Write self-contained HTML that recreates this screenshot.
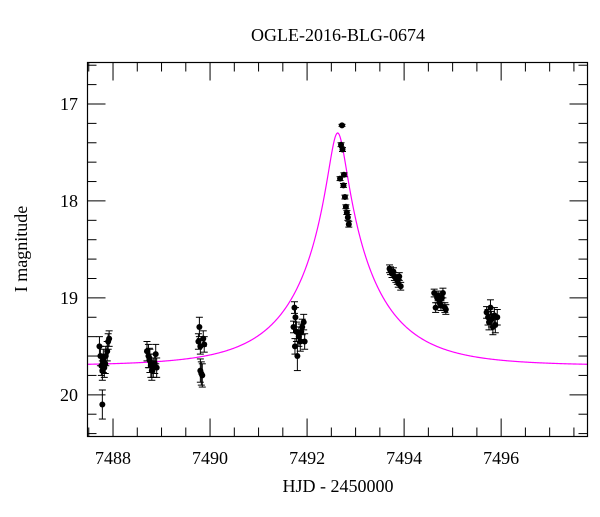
<!DOCTYPE html>
<html><head><meta charset="utf-8"><style>
body{margin:0;background:#fff}
svg text{font-family:"Liberation Serif",serif;fill:#000}
</style></head><body>
<svg id="chart" width="600" height="512" viewBox="0 0 600 512">
<text x="338" y="41" font-size="18" text-anchor="middle">OGLE-2016-BLG-0674</text>
<text x="338" y="492" font-size="18" text-anchor="middle">HJD - 2450000</text>
<text transform="translate(27,249) rotate(-90)" font-size="18" text-anchor="middle">I magnitude</text>
<g id="ticks"></g>
<g id="model"></g>
<g id="pts"></g>
<rect x="87.5" y="62.5" width="500" height="374" fill="none" stroke="#000" stroke-width="1.2"/>
</svg>
<script>
const xTicks=[7488,7490,7492,7494,7496];
const yTicks=[17,18,19,20];
const modelParams=[7492.63,0.11,1.62,19.7];
const obsT=[7487.72,7487.74,7487.76,7487.78,7487.8,7487.82,7487.85,7487.88,7487.9,7487.92,7487.78,7487.84,
7488.7,7488.73,7488.76,7488.78,7488.8,7488.83,7488.86,7488.88,7488.9,7488.75,
7489.76,7489.78,7489.8,7489.82,7489.84,7489.86,7489.88,7489.8,
7491.72,7491.74,7491.76,7491.78,7491.8,7491.83,7491.86,7491.88,7491.9,7491.93,7491.95,7491.75,
7492.72,7492.7,7492.73,7492.68,7492.76,7492.75,7492.78,7492.8,7492.82,7492.84,7492.86,
7493.7,7493.72,7493.75,7493.78,7493.8,7493.83,7493.86,7493.88,7493.9,7493.93,
7494.62,7494.65,7494.68,7494.7,7494.73,7494.76,7494.78,7494.8,7494.84,7494.86,
7495.7,7495.73,7495.75,7495.78,7495.8,7495.83,7495.86,7495.88,7495.92];
const obsMag=[19.5,19.6,19.7,20.1,19.65,19.72,19.6,19.55,19.45,19.42,19.75,19.68,
19.55,19.6,19.65,19.7,19.75,19.72,19.68,19.58,19.72,19.62,
19.45,19.3,19.75,19.78,19.8,19.42,19.48,19.5,
19.3,19.1,19.2,19.35,19.6,19.4,19.45,19.35,19.3,19.25,19.45,19.5,
17.22,17.42,17.47,17.77,17.73,17.84,17.96,18.06,18.12,18.17,18.24,
18.7,18.72,18.75,18.73,18.78,18.8,18.82,18.85,18.78,18.88,
18.95,19.1,19.0,18.98,19.05,19.08,19.0,18.95,19.1,19.12,
19.15,19.2,19.25,19.1,19.22,19.3,19.18,19.28,19.2];
const obsErr=[0.1,0.1,0.1,0.15,0.12,0.1,0.1,0.1,0.08,0.08,0.1,0.1,
0.1,0.12,0.12,0.12,0.1,0.1,0.1,0.1,0.1,0.1,
0.08,0.1,0.12,0.12,0.12,0.08,0.08,0.08,
0.06,0.06,0.1,0.1,0.15,0.1,0.1,0.08,0.08,0.08,0.08,0.08,
0.01,0.02,0.02,0.02,0.02,0.02,0.02,0.02,0.02,0.03,0.03,
0.04,0.04,0.04,0.04,0.04,0.04,0.04,0.04,0.04,0.04,
0.04,0.05,0.05,0.05,0.05,0.05,0.05,0.05,0.05,0.05,
0.06,0.08,0.08,0.08,0.08,0.08,0.08,0.08,0.08];
const X0=87.5,X1=587.5,Y0=62.5,Y1=436.5,TMIN=7487.474,TMAX=7497.78,MMIN=16.572,MMAX=20.43;
const NS='http://www.w3.org/2000/svg';
function sx(t){return X0+(t-TMIN)/(TMAX-TMIN)*(X1-X0);}
function sy(m){return Y0+(m-MMIN)/(MMAX-MMIN)*(Y1-Y0);}
function mk(tag,a,p){const e=document.createElementNS(NS,tag);for(const k in a)e.setAttribute(k,a[k]);p.appendChild(e);return e;}
const tk=document.getElementById('ticks');
for(let t=7487.5;t<=TMAX+1e-6;t+=0.5){
  const maj=Math.abs(t/2-Math.round(t/2))<1e-6;const L=maj?18:9;
  const l1=mk('line',{x1:sx(t),x2:sx(t),y1:Y1,y2:Y1-L,stroke:'#000'},tk);
  
  
  mk('line',{x1:sx(t),x2:sx(t),y1:Y0,y2:Y0+L,stroke:'#000'},tk);
}
xTicks.forEach(v=>{const e=mk('text',{x:sx(v),y:464,'font-size':18,'text-anchor':'middle'},tk);e.textContent=v;
  
  });
for(let i=0;i*0.2+16.6<=MMAX+1e-6;i++){
  const m=16.6+i*0.2;const maj=Math.abs(m-Math.round(m))<1e-6;const L=maj?18:9;
  const l=mk('line',{x1:X0,x2:X0+L,y1:sy(m),y2:sy(m),stroke:'#000'},tk);
  
  
  mk('line',{x1:X1,x2:X1-L,y1:sy(m),y2:sy(m),stroke:'#000'},tk);
}
yTicks.forEach(v=>{const e=mk('text',{x:78,y:sy(v)+6,'font-size':18,'text-anchor':'end'},tk);e.textContent=v;
  
  });
const [t0,u0,tE,base]=modelParams;
let d='';
for(let i=0;i<=600;i++){const t=TMIN+(TMAX-TMIN)*i/600;const tau=(t-t0)/tE;const u=Math.sqrt(u0*u0+tau*tau);
  const A=(u*u+2)/(u*Math.sqrt(u*u+4));const m=base-2.5*Math.log10(A);d+=(i?'L':'M')+sx(t).toFixed(2)+','+sy(m).toFixed(2);}
const path=mk('path',{d:d,fill:'none',stroke:'#ff00ff','stroke-width':1.2},document.getElementById('model'));


const pg=document.getElementById('pts');
obsT.forEach((t,i)=>{const x=sx(t),y=sy(obsMag[i]),e1=sy(obsMag[i]-obsErr[i]),e2=sy(obsMag[i]+obsErr[i]);
  const g=mk('g',{},pg);
  
  
  mk('line',{x1:x,x2:x,y1:e1,y2:e2,stroke:'#000','stroke-width':1},g);
  mk('line',{x1:x-3.5,x2:x+3.5,y1:e1,y2:e1,stroke:'#000','stroke-width':1},g);
  mk('line',{x1:x-3.5,x2:x+3.5,y1:e2,y2:e2,stroke:'#000','stroke-width':1},g);
  mk('circle',{cx:x,cy:y,r:3,fill:'#000'},g);});
</script>
</body></html>
